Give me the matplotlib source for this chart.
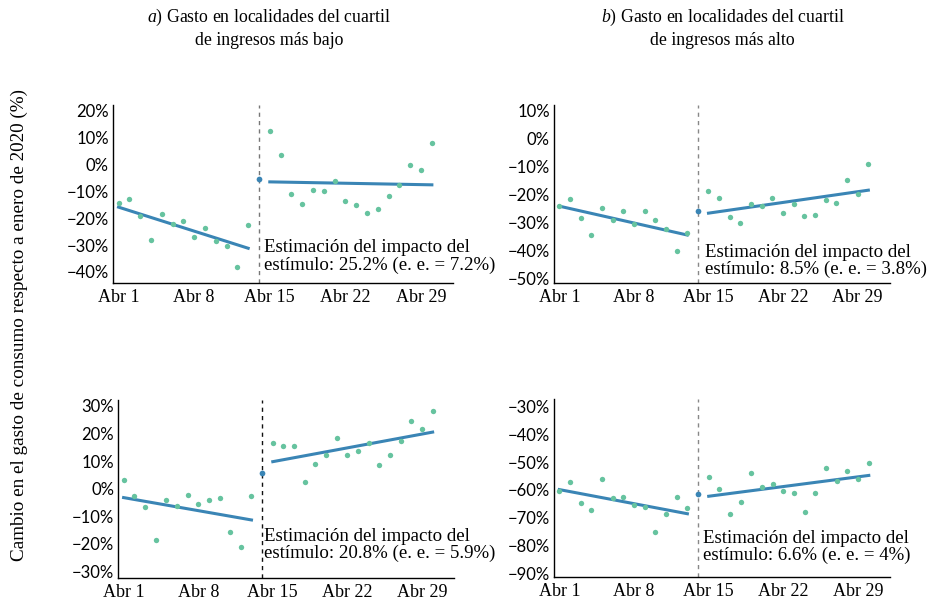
import matplotlib
matplotlib.use("Agg")
import matplotlib.pyplot as plt
import numpy as np

plt.rcParams["mathtext.fontset"] = "custom"
plt.rcParams["mathtext.rm"] = "Liberation Serif"
plt.rcParams["mathtext.it"] = "Liberation Serif:italic"

SERIF = "Liberation Serif"
SANS = "Lato"
GREEN = "#66c39f"
BLUE = "#3a85b5"

# Days of April
pre_days = list(range(1, 14))
break_day = 14
post_days = list(range(15, 31))

# a) low-income quartile, top row
tl_pre = [-14.5, -12.7, -19.1, -28.0, -18.3, -22.1, -21.0, -27.0, -23.7, -28.6, -30.2, -38.0, -22.5]
tl_break = -5.6
tl_post = [12.4, 3.4, -10.9, -14.9, -9.4, -9.8, -6.2, -13.7, -15.0, -18.1, -16.5, -11.6, -7.8, -0.4, -2.2, 8.0]
tl_trend_pre = [-15.9, -31.2]
tl_trend_post = [-6.5, -7.6]

# b) high-income quartile, top row
tr_pre = [-24.2, -21.6, -28.3, -34.3, -24.6, -28.9, -25.9, -30.4, -26.0, -29.1, -32.2, -40.1, -33.8]
tr_break = -25.9
tr_post = [-18.6, -21.3, -28.1, -30.2, -23.2, -24.2, -21.3, -26.6, -23.2, -27.5, -27.1, -21.9, -22.8, -14.9, -19.8, -9.0]
tr_trend_pre = [-24.1, -34.4]
tr_trend_post = [-26.6, -18.4]

# a) low-income quartile, bottom row
bl_pre = [3.3, -2.8, -6.6, -18.4, -4.0, -6.1, -2.1, -5.6, -4.0, -3.4, -15.5, -21.2, -2.8]
bl_break = 5.6
bl_post = [16.4, 15.6, 15.3, 2.5, 9.0, 12.1, 18.5, 12.1, 13.5, 16.5, 8.6, 12.3, 17.2, 24.6, 21.6, 28.2]
bl_trend_pre = [-3.2, -11.3]
bl_trend_post = [9.8, 20.5]

# b) high-income quartile, bottom row
br_pre = [-60.5, -57.1, -64.9, -67.2, -56.0, -62.8, -62.5, -65.4, -66.1, -75.3, -68.6, -62.5, -66.4]
br_break = -61.6
br_post = [-55.3, -59.6, -68.7, -64.3, -54.0, -58.8, -58.0, -60.4, -61.1, -67.8, -61.1, -52.0, -56.7, -53.3, -56.0, -50.5]
br_trend_pre = [-59.9, -68.6]
br_trend_post = [-62.3, -54.8]

x_ticks = [1, 8, 15, 22, 29]
x_labels = ["Abr 1", "Abr 8", "Abr 15", "Abr 22", "Abr 29"]

notes = [
    "Estimación del impacto del\nestímulo: 25.2% (e. e. = 7.2%)",
    "Estimación del impacto del\nestímulo: 8.5% (e. e. = 3.8%)",
    "Estimación del impacto del\nestímulo: 20.8% (e. e. = 5.9%)",
    "Estimación del impacto del\nestímulo: 6.6% (e. e. = 4%)",
]

panels = [
    # rect, data, yticks, ylim, note y, note dx, vline color
    ([0.121, 0.528, 0.364, 0.297], (tl_pre, tl_break, tl_post, tl_trend_pre, tl_trend_post),
     range(-40, 21, 10), (-44.2, 22.1), -40.6, 0.5, "#777777"),
    ([0.5925, 0.528, 0.359, 0.297], (tr_pre, tr_break, tr_post, tr_trend_pre, tr_trend_post),
     range(-50, 11, 10), (-51.6, 12.0), -49.9, 0.7, "#888888"),
    ([0.1265, 0.0367, 0.359, 0.297], (bl_pre, bl_break, bl_post, bl_trend_pre, bl_trend_post),
     range(-30, 31, 10), (-32.3, 32.2), -26.6, 0.15, "#111111"),
    ([0.5925, 0.0383, 0.3595, 0.297], (br_pre, br_break, br_post, br_trend_pre, br_trend_post),
     range(-90, -29, 10), (-91.4, -27.2), -86.7, 0.5, "#888888"),
]

fig = plt.figure(figsize=(9.35, 6.0), dpi=100)

for (rect, data, yt, ylim, note_y, note_dx, vcol), note in zip(panels, notes):
    pre, brk, post, tpre, tpost = data
    ax = fig.add_axes(rect)
    ax.scatter(pre_days, pre, s=15, color=GREEN, linewidths=0, zorder=3)
    ax.scatter(post_days, post, s=15, color=GREEN, linewidths=0, zorder=3)
    ax.scatter([break_day], [brk], s=17, color=BLUE, linewidths=0, zorder=4)
    ax.plot([pre_days[0], pre_days[-1]], tpre, color=BLUE, lw=2.2, zorder=2)
    ax.plot([post_days[0], post_days[-1]], tpost, color=BLUE, lw=2.2, zorder=2)
    ax.axvline(break_day, color=vcol, lw=1.0, ls=(0, (3, 3)), zorder=1)
    ax.text(break_day + note_dx, note_y, note, family=SERIF, fontsize=13.6,
            va="bottom", ha="left", linespacing=1.0)

    ax.set_xlim(0.5, 32.0)
    ax.set_ylim(*ylim)
    ax.set_xticks(x_ticks)
    ax.set_xticklabels(x_labels, family=SERIF, fontsize=13)
    ax.set_yticks(list(yt))
    ax.set_yticklabels([f"{v}%".replace("-", "\u2212") for v in yt], family=SANS, fontsize=12)
    ax.tick_params(axis="x", length=0, pad=4)
    ax.tick_params(axis="y", length=0, pad=3)
    for side in ("top", "right"):
        ax.spines[side].set_visible(False)
    for side in ("left", "bottom"):
        ax.spines[side].set_linewidth(1.0)

fig.text(0.288, 0.988, r"$\mathit{a)}$ Gasto en localidades del cuartil" "\nde ingresos más bajo",
         family=SERIF, fontsize=12.8, ha="center", va="top", linespacing=1.3)
fig.text(0.773, 0.988, r"$\mathit{b)}$ Gasto en localidades del cuartil" "\nde ingresos más alto",
         family=SERIF, fontsize=12.8, ha="center", va="top", linespacing=1.3)
fig.text(0.021, 0.458, "Cambio en el gasto de consumo respecto a enero de 2020 (%)",
         family=SERIF, fontsize=13.8, rotation=90, ha="center", va="center")

fig.savefig("out.png", dpi=100)
